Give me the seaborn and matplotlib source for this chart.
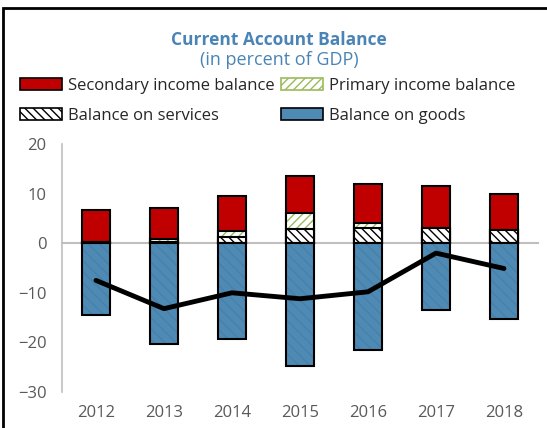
import numpy as np
import pandas as pd
import matplotlib
matplotlib.use("Agg")
import matplotlib.pyplot as plt
from matplotlib.patches import Patch, Rectangle
import seaborn as sns

sns.set_style("white")
plt.rcParams["font.family"] = ["Open Sans", "DejaVu Sans"]
plt.rcParams["hatch.linewidth"] = 1.0

# --- data (percent of GDP) ---
years = ["2012", "2013", "2014", "2015", "2016", "2017", "2018"]
goods = [-14.5, -20.3, -19.3, -24.8, -21.6, -13.5, -15.2]
services = [0.2, 0.2, 1.3, 2.8, 3.0, 3.0, 2.7]
primary = [0.0, 0.6, 1.1, 3.3, 1.0, 0.0, 0.0]
secondary = [6.5, 6.2, 7.1, 7.5, 7.9, 8.5, 7.2]
current_account = [-7.5, -13.2, -10.0, -11.2, -9.8, -2.0, -5.1]

df = pd.DataFrame({"year": years, "goods": goods, "services": services,
                   "primary": primary, "secondary": secondary,
                   "ca": current_account})
df["cum_services"] = df["services"]
df["cum_primary"] = df["services"] + df["primary"]
df["cum_secondary"] = df["cum_primary"] + df["secondary"]

RED = "#C00000"
BLUE = "#4E8AB3"
BLUE_H = "#4581AA"
GREEN = "#9BBB59"
GRAY = "#BFBFBF"
TXT = "#595959"
TITLE = "#4A84B6"

fig = plt.figure(figsize=(5.47, 4.28), dpi=100)
ax = fig.add_axes([0.1133, 0.0841, 0.8702, 0.5795])

W = 0.4
common = dict(data=df, x="year", order=years, width=W, errorbar=None,
              saturation=1, ax=ax)

# stacked positives drawn tallest first, shorter ones on top
sns.barplot(y="cum_secondary", color=RED, edgecolor="black", linewidth=1.5, **common)
sns.barplot(y="cum_primary", color="white", edgecolor=GREEN, hatch="////",
            linewidth=0, **common)
sns.barplot(y="cum_primary", color="black", fill=False, linewidth=1.5, **common)
sns.barplot(y="cum_services", color="white", edgecolor="black", hatch="\\\\\\\\",
            linewidth=0, **common)
sns.barplot(y="cum_services", color="black", fill=False, linewidth=1.5, **common)

# goods (negative)
sns.barplot(y="goods", color=BLUE, edgecolor=BLUE_H, hatch="\\\\\\",
            linewidth=0, **common)
sns.barplot(y="goods", color="black", fill=False, linewidth=1.5, **common)

# current account line
sns.lineplot(x=np.arange(len(years)), y=df["ca"], color="black", lw=3.5,
             ax=ax, zorder=5)

ax.set_xlim(-0.5, len(years) - 0.5)
ax.set_ylim(-30, 20)
ax.set_yticks(np.arange(-30, 21, 10))
ax.set_xlabel("")
ax.set_ylabel("")

for s in ["top", "right"]:
    ax.spines[s].set_visible(False)
ax.spines["left"].set_color(GRAY)
ax.spines["left"].set_linewidth(1.2)
ax.spines["bottom"].set_position(("data", 0))
ax.spines["bottom"].set_color(GRAY)
ax.spines["bottom"].set_linewidth(1.5)
ax.spines["bottom"].set_zorder(0.5)

ax.set_xticks(np.arange(len(years)))
ax.set_xticks(np.arange(len(years) + 1) - 0.5, minor=True)
ax.tick_params(axis="x", which="major", length=0, labelbottom=False)
ax.tick_params(axis="x", which="minor", length=6, width=1.2, color=GRAY,
               direction="out")
ax.tick_params(axis="y", length=5, width=1.2, color=GRAY, direction="out",
               labelsize=12, labelcolor=TXT, pad=6)

sec = ax.secondary_xaxis("bottom")
sec.set_xticks(np.arange(len(years)), labels=years)
sec.tick_params(length=0, labelsize=12, labelcolor=TXT, pad=9)
sec.spines["bottom"].set_visible(False)

fig.text(0.51, 1 - 40 / 428, "Current Account Balance", ha="center",
         va="center", color=TITLE, fontsize=12.5, fontweight="bold")
fig.text(0.51, 1 - 60 / 428, "(in percent of GDP)", ha="center",
         va="center", color=TITLE, fontsize=13)

handles = [
    Patch(facecolor=RED, edgecolor="black", linewidth=1.2),
    Patch(facecolor="white", edgecolor="black", hatch="\\\\\\\\", linewidth=1.2),
    Patch(facecolor="white", edgecolor=GREEN, hatch="////", linewidth=1.2),
    Patch(facecolor=BLUE, edgecolor="black", linewidth=1.2),
]
labels = ["Secondary income balance", "Balance on services",
          "Primary income balance", "Balance on goods"]
fig.legend(handles, labels, ncol=2, loc="upper left",
           bbox_to_anchor=(0.037, 1 - 78 / 428), frameon=False, fontsize=12,
           handlelength=2.5, handleheight=0.72, handletextpad=0.35,
           columnspacing=0.4, labelspacing=0.85, borderaxespad=0,
           borderpad=0)

# figure frame (left and top visible)
fig.patches.append(Rectangle((0.006, -0.1), 1.2, 1.081, transform=fig.transFigure,
                             fill=False, edgecolor="black", linewidth=2))

fig.savefig("out.png", dpi=100)
